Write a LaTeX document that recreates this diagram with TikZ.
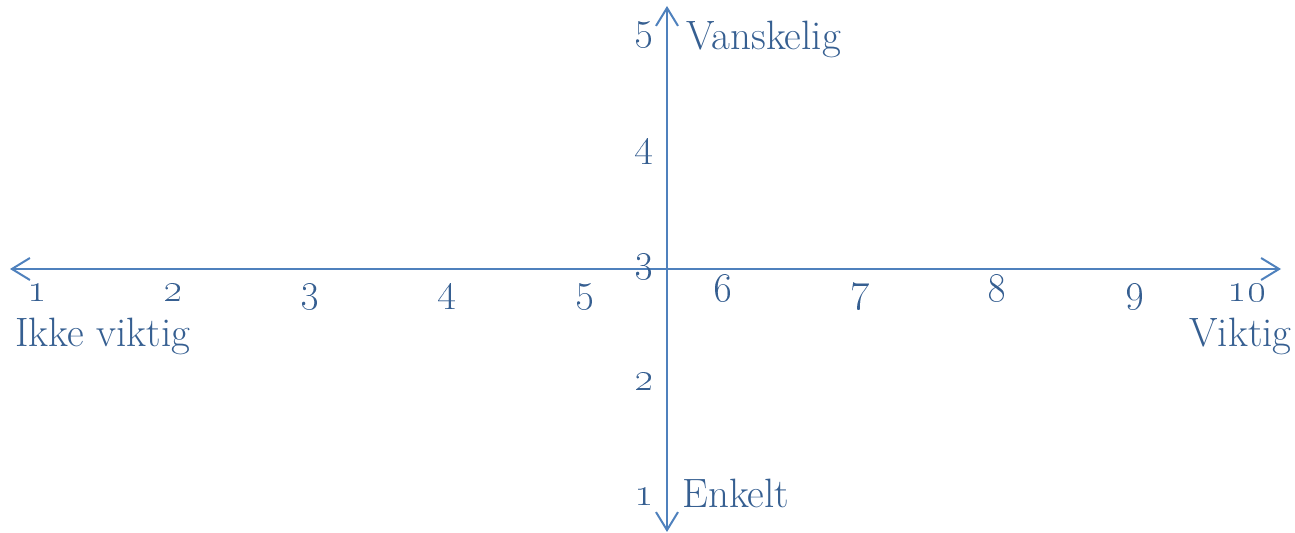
\documentclass[tikz,border=0pt]{standalone}
\usetikzlibrary{arrows.meta}
\definecolor{lineblue}{HTML}{4F81BD}
\definecolor{textblue}{HTML}{365F91}
\tikzset{
  axis/.style={lineblue, line width=1pt, {Straight Barb[length=9pt,width=11pt]}-{Straight Barb[length=9pt,width=11pt]}},
  lbl/.style={textblue, inner sep=0pt, font=\fontsize{20.5}{24}\selectfont},
}
\begin{document}
\begin{tikzpicture}[x=0.5pt,y=-0.5pt]
  \useasboundingbox (0,0) rectangle (1295,533);
  % Axes
  \coordinate (left) at (10,269);
  \coordinate (right) at (1281,269);
  \coordinate (top) at (667,6);
  \coordinate (bottom) at (667,532);
  \draw[axis] (left) -- (right);
  \draw[axis] (top) -- (bottom);

  % Importance scale
  \foreach \x/\n in {37/1,173/2,310/3,447/4,585/5,723/6,860/7,997/8,1135/9,1247/10}
    \node[lbl,anchor=base] (h\n) at (\x,302) {\oldstylenums{\n}};
  % Difficulty scale
  \foreach \y/\n in {506/1,391/2,272/3,157/4,40/5}
    \node[lbl,anchor=base east] (v\n) at (654,\y) {\oldstylenums{\n}};

  \node[lbl,anchor=base west] (hard) at (686,50) {Vanskelig};
  \node[lbl,anchor=base west] (easy) at (682,508) {Enkelt};
  \node[lbl,anchor=base west] (unimportant) at (15,347) {Ikke viktig};
  \node[lbl,anchor=base east] (important) at (1292,347) {Viktig};
\end{tikzpicture}
\end{document}
